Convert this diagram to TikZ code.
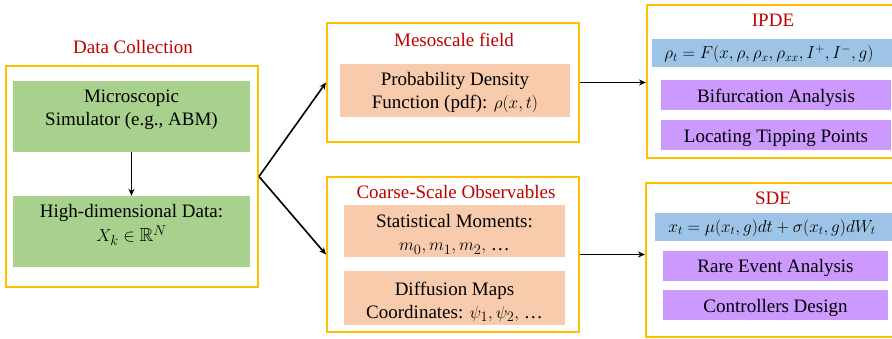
\documentclass[tikz,border=0pt]{standalone}
\usepackage{amssymb}
\usepackage{fontspec}
\setmainfont{Liberation Serif}
\usetikzlibrary{arrows.meta}
\definecolor{frameorange}{HTML}{FFC000}
\definecolor{titlered}{HTML}{C00000}
\definecolor{simgreen}{HTML}{A9D18E}
\definecolor{peach}{HTML}{F8CBAD}
\definecolor{eqblue}{HTML}{9DC3E6}
\definecolor{taskpurple}{HTML}{CC99FF}
\tikzset{
  frame/.style={draw=frameorange, line width=2pt, fill=white, inner sep=0pt},
  slab/.style={inner sep=0pt},
  greenbox/.style={slab, fill=simgreen},
  peachbox/.style={slab, fill=peach},
  bluebox/.style={slab, fill=eqblue},
  purplebox/.style={slab, fill=taskpurple},
  txt/.style={inner sep=0pt, align=center, font=\fontsize{19}{23}\selectfont},
  eqtxt/.style={inner sep=0pt, font=\fontsize{16.5}{20}\selectfont},
  heading/.style={text=titlered, font=\fontsize{19}{23}\selectfont, inner sep=0pt},
  flow/.style={line width=1.6pt, -{Stealth[length=7pt,width=6pt]}}
}
\begin{document}
\begin{tikzpicture}[x=1pt, y=-1pt]
\useasboundingbox (0,0) rectangle (892,338);
\clip (0,0) rectangle (892,338);

% data collection column
\node[heading] (tdata) at (133,47) {Data Collection};
\node[frame, minimum width=252pt, minimum height=221pt] (data) at (132,176.5) {};
\node[greenbox, minimum width=237pt, minimum height=71pt] (micro) at (131.5,116.5) {};
\node[txt] (microtxt) at (131.5,109.5) {Microscopic\\Simulator (e.g., ABM)};
\node[greenbox, minimum width=237pt, minimum height=71pt] (hidim) at (131.5,231.5) {};
\node[txt] (hidimtxt) at (131.5,225) {High-dimensional Data:\\[1pt]$X_k\in\mathbb{R}^N$};

% mesoscale column
\node[frame, minimum width=252pt, minimum height=119pt] (meso) at (453,82.5) {};
\node[heading] (tmeso) at (454,40) {Mesoscale field};
\node[peachbox, minimum width=230pt, minimum height=53pt] (pdf) at (455,90.5) {};
\node[txt] (pdftxt) at (455,93) {Probability Density\\Function (pdf): $\rho(x,t)$};

\node[frame, minimum width=252pt, minimum height=155pt] (coarse) at (453,254.5) {};
\node[heading] (tcoarse) at (456,192) {Coarse-Scale Observables};
\node[peachbox, minimum width=221pt, minimum height=52pt] (moments) at (454.5,231) {};
\node[txt] (momentstxt) at (454.5,234.5) {Statistical Moments:\\$m_0,m_1,m_2,$ …};
\node[peachbox, minimum width=221pt, minimum height=54pt] (dmaps) at (454.5,298) {};
\node[txt] (dmapstxt) at (454.5,301.5) {Diffusion Maps\\Coordinates: $\psi_1,\psi_2,$ …};

% model column
\node[frame, minimum width=250pt, minimum height=153pt] (ipde) at (772,81.5) {};
\node[heading] (tipde) at (773,20) {IPDE};
\node[bluebox, minimum width=243pt, minimum height=28pt] (ipdeeq) at (773.5,53) {};
\node[eqtxt] (ipdeeqtxt) at (769,54) {$\rho_t=F(x,\rho,\rho_x,\rho_{xx},I^{+},I^{-},g)$};
\node[purplebox, minimum width=230pt, minimum height=30pt] (bif) at (776,95) {};
\node[txt] (biftxt) at (776,98) {Bifurcation Analysis};
\node[purplebox, minimum width=230pt, minimum height=30pt] (tip) at (776,135) {};
\node[txt] (tiptxt) at (776,138) {Locating Tipping Points};

\node[frame, minimum width=251pt, minimum height=154pt] (sde) at (771.5,260) {};
\node[heading] (tsde) at (773,198) {SDE};
\node[bluebox, minimum width=238pt, minimum height=28pt] (sdeeq) at (774,227) {};
\node[eqtxt] (sdeeqtxt) at (772,228) {$x_t=\mu(x_t,g)dt+\sigma(x_t,g)dW_t$};
\node[purplebox, minimum width=225pt, minimum height=30pt] (rare) at (775.5,266) {};
\node[txt] (raretxt) at (775.5,268) {Rare Event Analysis};
\node[purplebox, minimum width=225pt, minimum height=30pt] (ctrl) at (775.5,305) {};
\node[txt] (ctrltxt) at (775.5,308) {Controllers Design};

% connectors
\draw[flow] (micro.south) -- (hidim.north);
\draw[flow] (data.east) -- (meso.west);
\draw[flow] (data.east) -- (coarse.west);
\draw[flow] (meso.east) -- (meso.east -| ipde.west);
\draw[flow] (coarse.east) -- (coarse.east -| sde.west);
\end{tikzpicture}
\end{document}
